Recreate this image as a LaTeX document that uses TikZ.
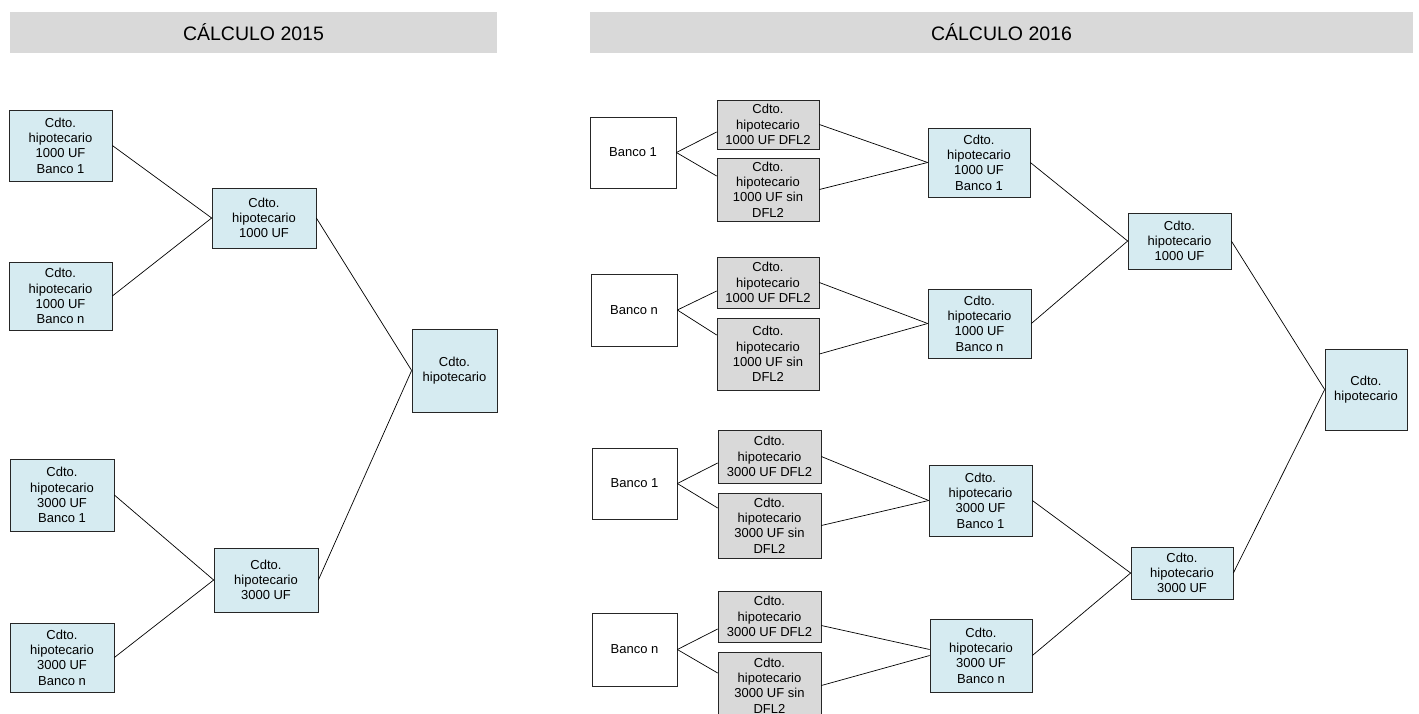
\documentclass[tikz,border=0pt]{standalone}
\usepackage{fontspec}
\setmainfont{Liberation Sans}
\usetikzlibrary{calc}
\definecolor{boxblue}{RGB}{214,235,241}
\definecolor{boxgray}{RGB}{217,217,217}
\definecolor{hdrgray}{RGB}{217,217,217}
\newcommand{\boxfont}{\fontsize{13}{15.3}\selectfont}
\newcommand{\hdrfont}{\fontsize{19.5}{23}\selectfont}
\begin{document}
\begin{tikzpicture}[x=1pt,y=-1pt,
  base/.style={draw=black!85, line width=0.7pt, inner sep=0pt, align=center, font=\boxfont},
  bluebox/.style={base, fill=boxblue},
  graybox/.style={base, fill=boxgray},
  whitebox/.style={base, fill=white},
  hdr/.style={fill=hdrgray, draw=none, inner sep=0pt, font=\hdrfont, minimum height=41pt},
  conn/.style={line width=0.7pt, black}]
\useasboundingbox (0,0) rectangle (1419,713);

% headers
\node[hdr, minimum width=487pt] (h1) at (253.5,32.5) {CÁLCULO 2015};
\node[hdr, minimum width=823pt] (h2) at (1001.5,32.5) {CÁLCULO 2016};

% ---------- 2015 ----------
\node[bluebox, minimum width=103pt, minimum height=71pt] (A1) at (60.5,145.5) {Cdto.\\hipotecario\\1000 UF\\Banco 1};
\node[bluebox, minimum width=103pt, minimum height=68pt] (A2) at (60.5,296) {Cdto.\\hipotecario\\1000 UF\\Banco n};
\node[bluebox, minimum width=104pt, minimum height=60pt] (B1) at (264,218) {Cdto.\\hipotecario\\1000 UF};
\node[bluebox, minimum width=85pt, minimum height=83pt] (C) at (454.5,370.5) {Cdto.\\hipotecario};
\node[bluebox, minimum width=104pt, minimum height=72pt] (A3) at (62,495) {Cdto.\\hipotecario\\3000 UF\\Banco 1};
\node[bluebox, minimum width=104pt, minimum height=69pt] (A4) at (62,657.5) {Cdto.\\hipotecario\\3000 UF\\Banco n};
\node[bluebox, minimum width=104pt, minimum height=64pt] (B2) at (266,580) {Cdto.\\hipotecario\\3000 UF};

\draw[conn] (A1.east) -- (B1.west);
\draw[conn] (A2.east) -- (B1.west);
\draw[conn] (A3.east) -- (B2.west);
\draw[conn] (A4.east) -- (B2.west);
\draw[conn] (B1.east) -- (C.west);
\draw[conn] (B2.east) -- (C.west);

% ---------- 2016 ----------
% group 1
\node[whitebox, minimum width=86pt, minimum height=71pt] (R1) at (633,152.5) {Banco 1};
\node[graybox, minimum width=102pt, minimum height=49pt] (D1) at (768,124.5) {Cdto.\\hipotecario\\1000 UF DFL2};
\node[graybox, minimum width=102pt, minimum height=63pt] (S1) at (768,189.5) {Cdto.\\hipotecario\\1000 UF sin\\DFL2};
\node[bluebox, minimum width=102pt, minimum height=69pt] (M1) at (979,162.5) {Cdto.\\hipotecario\\1000 UF\\Banco 1};
% group 2
\node[whitebox, minimum width=86pt, minimum height=72pt] (R2) at (634,310) {Banco n};
\node[graybox, minimum width=102pt, minimum height=51pt] (D2) at (768,282.5) {Cdto.\\hipotecario\\1000 UF DFL2};
\node[graybox, minimum width=102pt, minimum height=72pt] (S2) at (768,354) {Cdto.\\hipotecario\\1000 UF sin\\DFL2};
\node[bluebox, minimum width=103pt, minimum height=69pt] (M2) at (979.5,323.5) {Cdto.\\hipotecario\\1000 UF\\Banco n};
% group 3
\node[whitebox, minimum width=85pt, minimum height=71pt] (R3) at (634.5,483.5) {Banco 1};
\node[graybox, minimum width=103pt, minimum height=53pt] (D3) at (769.5,456.5) {Cdto.\\hipotecario\\3000 UF DFL2};
\node[graybox, minimum width=103pt, minimum height=65pt] (S3) at (769.5,525.5) {Cdto.\\hipotecario\\3000 UF sin\\DFL2};
\node[bluebox, minimum width=103pt, minimum height=71pt] (M3) at (980.5,500.5) {Cdto.\\hipotecario\\3000 UF\\Banco 1};
% group 4
\node[whitebox, minimum width=85pt, minimum height=73pt] (R4) at (634.5,649.5) {Banco n};
\node[graybox, minimum width=103pt, minimum height=51pt] (D4) at (769.5,616.5) {Cdto.\\hipotecario\\3000 UF DFL2};
\node[graybox, minimum width=103pt, minimum height=67pt] (S4) at (769.5,685.5) {Cdto.\\hipotecario\\3000 UF sin\\DFL2};
\node[bluebox, minimum width=102pt, minimum height=73pt] (M4) at (981,655.5) {Cdto.\\hipotecario\\3000 UF\\Banco n};
% aggregates
\node[bluebox, minimum width=103pt, minimum height=56pt] (T1) at (1179.5,241) {Cdto.\\hipotecario\\1000 UF};
\node[bluebox, minimum width=102pt, minimum height=52pt] (T3) at (1182,573) {Cdto.\\hipotecario\\3000 UF};
\node[bluebox, minimum width=82pt, minimum height=81pt] (F) at (1366,389.5) {Cdto.\\hipotecario};

% connectors
\draw[conn] (R1.east) -- ($(D1.west)+(0,7.5)$);
\draw[conn] (R1.east) -- ($(S1.west)+(0,-13.5)$);
\draw[conn] (D1.east) -- (M1.west);
\draw[conn] (S1.east) -- (M1.west);

\draw[conn] (R2.east) -- ($(D2.west)+(0,8.5)$);
\draw[conn] (R2.east) -- ($(S2.west)+(0,-19)$);
\draw[conn] (D2.east) -- (M2.west);
\draw[conn] (S2.east) -- (M2.west);

\draw[conn] (R3.east) -- ($(D3.west)+(0,6.5)$);
\draw[conn] (R3.east) -- ($(S3.west)+(0,-17.5)$);
\draw[conn] (D3.east) -- (M3.west);
\draw[conn] (S3.east) -- (M3.west);

\draw[conn] (R4.east) -- ($(D4.west)+(0,12.5)$);
\draw[conn] (R4.east) -- ($(S4.west)+(0,-12.5)$);
\draw[conn] ($(D4.east)+(0,9)$) -- ($(M4.west)+(0,-6)$);
\draw[conn] (S4.east) -- (M4.west);

\draw[conn] (M1.east) -- (T1.west);
\draw[conn] (M2.east) -- (T1.west);
\draw[conn] (M3.east) -- (T3.west);
\draw[conn] (M4.east) -- (T3.west);
\draw[conn] (T1.east) -- (F.west);
\draw[conn] (T3.east) -- (F.west);
\end{tikzpicture}
\end{document}
